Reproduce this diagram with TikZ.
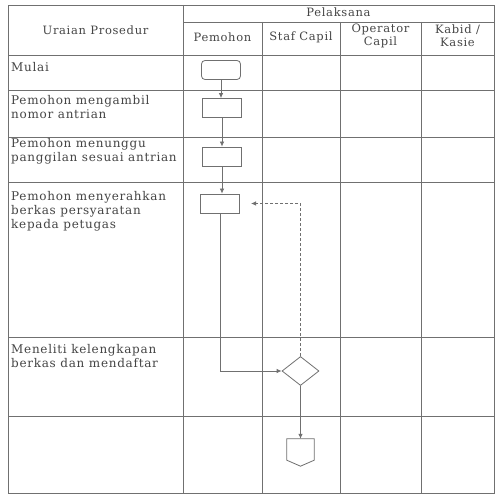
\documentclass[tikz,border=0pt]{standalone}
\usepackage{fontspec}
\setmainfont{DejaVu Serif}[LetterSpace=6]
\usetikzlibrary{arrows.meta,shapes.geometric}
\definecolor{ln}{HTML}{707070}
\definecolor{tx}{HTML}{454545}
\begin{document}
\begin{tikzpicture}[x=1pt,y=-1pt,
  grid/.style={draw=ln,line width=0.8pt},
  lbl/.style={anchor=north west,align=left,text=tx,font=\fontsize{12}{14}\selectfont,inner sep=0pt},
  hdr/.style={align=center,text=tx,font=\fontsize{11.5}{13}\selectfont,inner sep=0pt},
  procbox/.style={draw=ln,line width=0.8pt,minimum width=39pt,minimum height=19pt,inner sep=0pt},
  term/.style={procbox,rounded corners=3.5pt},
  decision/.style={draw=ln,line width=0.8pt,shape=diamond,minimum width=37pt,minimum height=29pt,inner sep=0pt},
  flow/.style={draw=ln,line width=0.8pt,-{Latex[length=5pt,width=4.5pt]}},
  backflow/.style={flow,dash pattern=on 3pt off 2pt}
  ]
\useasboundingbox (0,0) rectangle (499,494);
\fill[white] (0,0) rectangle (499,494);
% grid
\draw[grid] (8,5) rectangle (494,493);
\draw[grid] (183,5) -- (183,493);
\draw[grid] (183,22) -- (494,22);
\foreach \x in {262,340,421} \draw[grid] (\x,22) -- (\x,493);
\foreach \y in {55,90,137,182,337,416} \draw[grid] (8,\y) -- (494,\y);
% headers
\node[hdr,anchor=base] (hU) at (95.5,35) {Uraian Prosedur};
\node[hdr,anchor=base] (hP) at (338.5,17) {Pelaksana};
\node[hdr,anchor=base] (hPm) at (222.5,42) {Pemohon};
\node[hdr,anchor=base] (hS) at (301,41) {Staf Capil};
\node[hdr] (hO) at (380.5,35.5) {Operator\\Capil};
\node[hdr] (hK) at (457.5,35.5) {Kabid /\\Kasie};
% row labels
\node[lbl] (l1) at (11,62) {Mulai};
\node[lbl] (l2) at (11,95) {Pemohon mengambil\\nomor antrian};
\node[lbl] (l3) at (11,138) {Pemohon menunggu\\panggilan sesuai antrian};
\node[lbl] (l4) at (11,191) {Pemohon menyerahkan\\berkas persyaratan\\kepada petugas};
\node[lbl] (l5) at (11,344) {Meneliti kelengkapan\\berkas dan mendaftar};
% flow shapes
\node[term] (start) at (221,70) {};
\node[procbox] (b2) at (222,108) {};
\node[procbox] (b3) at (222,156.5) {};
\node[procbox] (b4) at (220,203.5) {};
\node[decision] (dec) at (300.5,371) {};
\node[minimum width=27pt,minimum height=27pt,inner sep=0pt] (off) at (300.5,452.5) {};
\draw[grid] (off.north west) -- (off.north east) -- ([yshift=6pt]off.south east)
  -- (off.south) -- ([yshift=6pt]off.south west) -- cycle;
\coordinate (ret) at (251,203.5);
% connectors
\draw[flow] (start) -- (start |- b2.north);
\draw[flow] (b2) -- (b2 |- b3.north);
\draw[flow] (b3) -- (b3 |- b4.north);
\draw[flow] (b4.south) |- (dec.west);
\draw[backflow] (dec.north) |- (ret);
\draw[flow] (dec.south) -- (off.north);
\end{tikzpicture}
\end{document}
